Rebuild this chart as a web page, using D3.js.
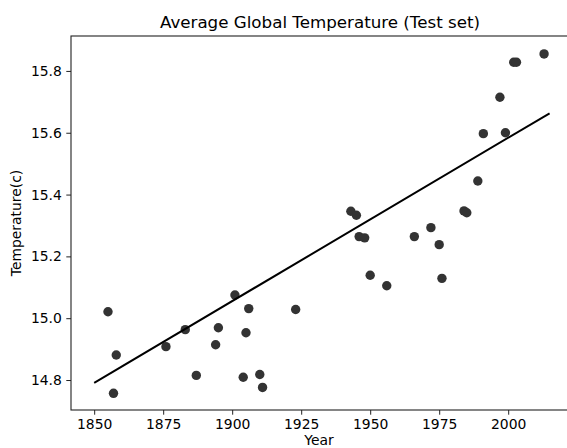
<!DOCTYPE html>
<html>
<head>
<meta charset="utf-8">
<script src="https://cdn.jsdelivr.net/npm/d3@7"></script>
<style>
  html, body { margin: 0; padding: 0; background: #fff; }
  svg { display: block; }
  text { font-family: "DejaVu Sans", sans-serif; fill: #000; }
</style>
</head>
<body>
<svg id="chart" width="567" height="448"></svg>
<script>
// Data
const years = [1855, 1857, 1858, 1876, 1883, 1887, 1894, 1895, 1901, 1904, 1905, 1906,
               1910, 1911, 1923, 1943, 1945, 1946, 1948, 1950, 1956, 1966, 1972, 1975,
               1976, 1984, 1985, 1989, 1991, 1997, 1999, 2002, 2003, 2013];
const temps = [15.021, 14.757, 14.881, 14.908, 14.963, 14.815, 14.914, 14.969, 15.075, 14.809, 14.953, 15.031,
               14.818, 14.776, 15.028, 15.346, 15.333, 15.264, 15.260, 15.139, 15.105, 15.264, 15.293, 15.238,
               15.129, 15.347, 15.341, 15.444, 15.597, 15.715, 15.600, 15.828, 15.828, 15.855];
const fitYears = [1850, 2015];
const fitTemps = [14.791, 15.663];
const xTicks = [1850, 1875, 1900, 1925, 1950, 1975, 2000];
const yTicks = [14.8, 15.0, 15.2, 15.4, 15.6, 15.8];
const title = "Average Global Temperature (Test set)";
const xLabel = "Year";
const yLabel = "Temperature(c)";

const svg = d3.select("#chart");
const mLeft = 71, mTop = 36, mBottom = 410, mRight = 572.5;

const x = d3.scaleLinear().domain([1841.6, 2023.3]).range([mLeft, mRight]);
const y = d3.scaleLinear().domain([14.703, 15.913]).range([mBottom, mTop]);

svg.append("defs").append("clipPath").attr("id", "clip")
  .append("rect").attr("x", mLeft).attr("y", mTop).attr("width", mRight - mLeft).attr("height", mBottom - mTop);

const plot = svg.append("g").attr("clip-path", "url(#clip)");

// points
plot.selectAll("circle").data(years.map((yr, i) => [yr, temps[i]])).enter()
  .append("circle")
  .attr("cx", d => x(d[0]))
  .attr("cy", d => y(d[1]))
  .attr("r", 4.7)
  .attr("fill", "#333333");

// fit line
plot.append("path")
  .datum(fitYears.map((yr, i) => [yr, fitTemps[i]]))
  .attr("d", d3.line().x(d => x(d[0])).y(d => y(d[1])))
  .attr("fill", "none")
  .attr("stroke", "#000")
  .attr("stroke-width", 2);

// axes
const xAxis = d3.axisBottom(x).tickValues(xTicks).tickFormat(d3.format("d")).tickSize(4.7).tickPadding(4.5);
const yAxis = d3.axisLeft(y).tickValues(yTicks).tickFormat(d3.format(".1f")).tickSize(4.7).tickPadding(4.5);

const gx = svg.append("g").attr("transform", `translate(0,${mBottom})`).call(xAxis);
const gy = svg.append("g").attr("transform", `translate(${mLeft},0)`).call(yAxis);

[gx, gy].forEach(g => {
  g.select(".domain").remove();
  g.selectAll(".tick line").attr("stroke", "#222").attr("stroke-width", 1);
  g.selectAll(".tick text").style("font-family", "DejaVu Sans, sans-serif").style("font-size", "13.9px").attr("fill", "#222");
});

// spines
svg.append("rect")
  .attr("x", mLeft).attr("y", mTop)
  .attr("width", mRight - mLeft).attr("height", mBottom - mTop)
  .attr("fill", "none").attr("stroke", "#222").attr("stroke-width", 1.1);

// title and labels
svg.append("text").attr("x", (mLeft + 567) / 2 + 1).attr("y", 28)
  .attr("text-anchor", "middle").style("font-size", "16.7px").attr("fill", "#222").text(title);

svg.append("text").attr("x", (mLeft + 567) / 2).attr("y", 444.5)
  .attr("text-anchor", "middle").style("font-size", "13.9px").attr("fill", "#222").text(xLabel);

svg.append("text").attr("transform", `translate(21,${(mTop + mBottom) / 2}) rotate(-90)`)
  .attr("text-anchor", "middle").style("font-size", "13.9px").attr("fill", "#222").text(yLabel);
</script>
</body>
</html>
